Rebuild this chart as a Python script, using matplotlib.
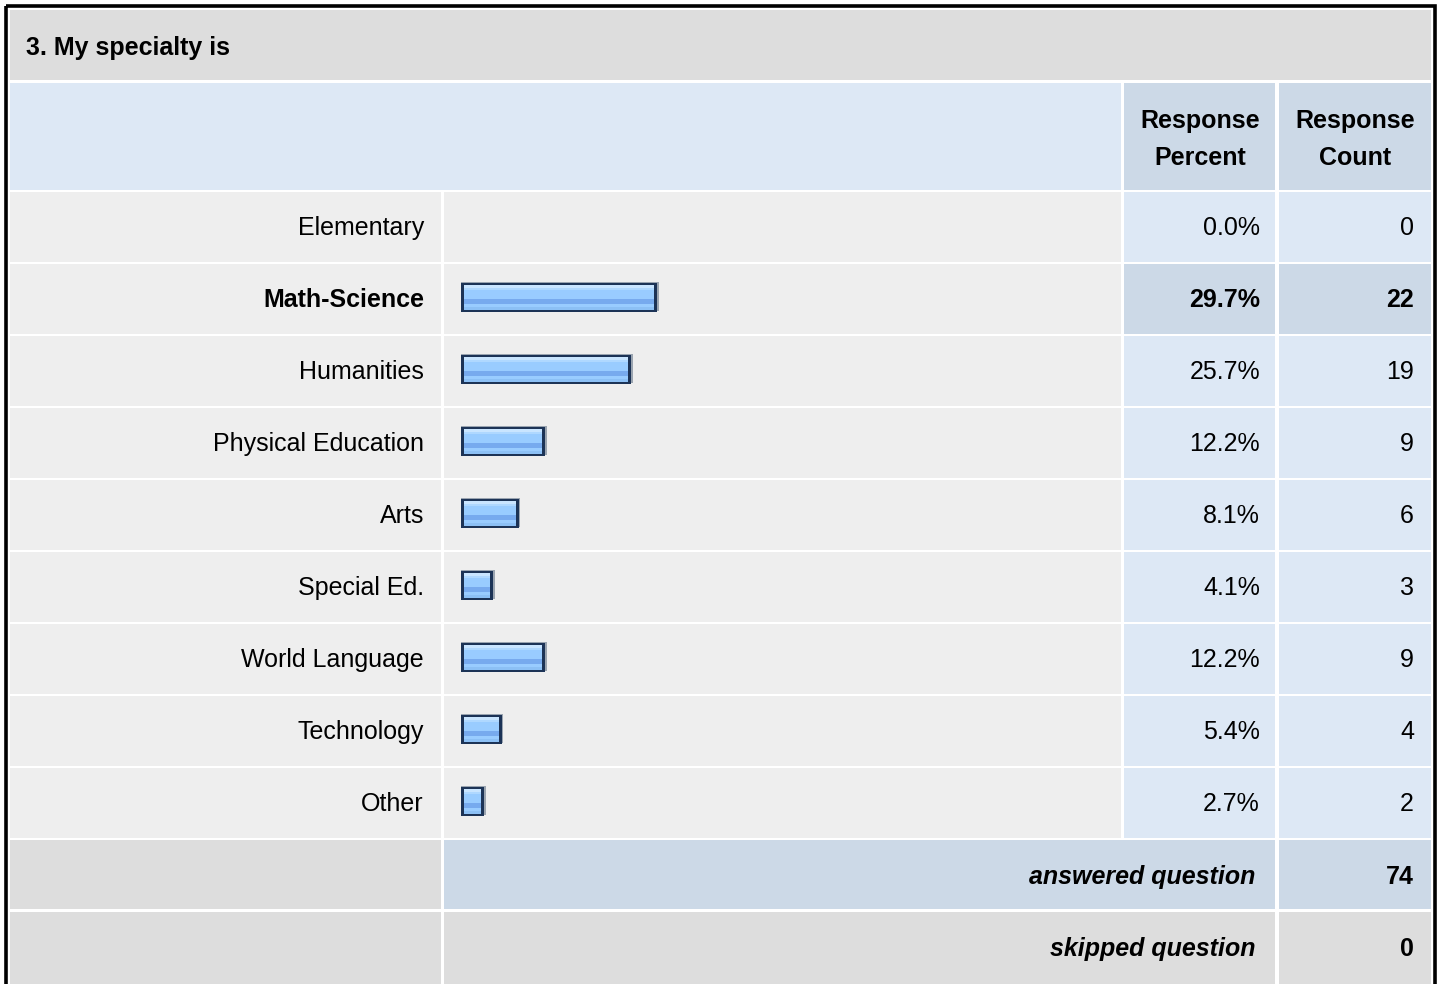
import matplotlib.pyplot as plt
from matplotlib.patches import Rectangle
import numpy as np

# survey data
title = "3. My specialty is"
categories = ["Elementary", "Math-Science", "Humanities", "Physical Education",
              "Arts", "Special Ed.", "World Language", "Technology", "Other"]
percents = [0.0, 29.7, 25.7, 12.2, 8.1, 4.1, 12.2, 5.4, 2.7]
counts = [0, 22, 19, 9, 6, 3, 9, 4, 2]
highlight = "Math-Science"
answered = 74
skipped = 0

plt.rcParams['font.family'] = ['Liberation Sans', 'DejaVu Sans']
FS = 18

# colours
GRAY = "#dddddd"
ROWGRAY = "#eeeeee"
LBLUE = "#dde8f5"
DBLUE = "#ccd9e7"
NAVY = "#1c3356"

fig = plt.figure(figsize=(14.4, 9.84), dpi=100)
ax = fig.add_axes([0, 0, 1, 1])
ax.set_xlim(0, 1440)
ax.set_ylim(984, 0)
ax.axis('off')

def cell(x0, x1, y0, y1, color):
    ax.add_patch(Rectangle((x0, y0), x1 - x0, y1 - y0, facecolor=color, edgecolor='none'))

# column bounds
C_LAB = (10, 441)
C_BAR = (444, 1121)
C_PCT = (1124, 1275)
C_CNT = (1279, 1431)

# outer frame
ax.add_patch(Rectangle((6, 6), 1428.5, 1000, facecolor='none', edgecolor='black', linewidth=2.6))

# title row
cell(10, 1431, 10, 80, GRAY)
ax.text(26, 48, title, fontsize=FS, fontweight='bold', ha='left', va='center')

# header row
cell(10, 1121, 83, 190, LBLUE)
cell(*C_PCT, 83, 190, DBLUE)
cell(*C_CNT, 83, 190, DBLUE)
for xc, (l1, l2) in [(1200, ("Response", "Percent")), (1355, ("Response", "Count"))]:
    ax.text(xc, 121, l1, fontsize=FS, fontweight='bold', ha='center', va='center')
    ax.text(xc, 158, l2, fontsize=FS, fontweight='bold', ha='center', va='center')

# data rows
n = len(categories)
row_top = 192 + 72 * np.arange(n)
centers = row_top + 35
for i, cat in enumerate(categories):
    y0, y1 = row_top[i], row_top[i] + 70
    hl = cat == highlight
    cell(*C_LAB, y0, y1, ROWGRAY)
    cell(*C_BAR, y0, y1, ROWGRAY)
    cell(*C_PCT, y0, y1, DBLUE if hl else LBLUE)
    cell(*C_CNT, y0, y1, DBLUE if hl else LBLUE)
    w = 'bold' if hl else 'normal'
    ax.text(424, centers[i] + 1, cat, fontsize=FS, fontweight=w, ha='right', va='center')
    ax.text(1260, centers[i] + 1, f"{percents[i]:.1f}%", fontsize=FS, fontweight=w, ha='right', va='center')
    ax.text(1414, centers[i] + 1, str(counts[i]), fontsize=FS, fontweight=w, ha='right', va='center')

# bars: image width = percent * scale + border padding
scale = 6.4
pad = 6
pct = np.array(percents)
mask = pct > 0
yb = centers[mask] - 1.5
wb = pct[mask] * scale + pad
left = 461
# shadow, border, then striped fill
ax.barh(yb - 1, wb + 1.5, height=29, left=left, color="#9aa4b0", linewidth=0)
ax.barh(yb, wb, height=29, left=left, color=NAVY, linewidth=0)
stripes = [(-11.2, 2.7, "#c9e5ff"), (-8.55, 2.8, "#afd8ff"), (-2.85, 8.8, "#99ccff"),
           (4.15, 5.4, "#77aaee"), (8.15, 2.8, "#99ccff"), (10.8, 2.6, "#8cc0f5")]
for off, h, col in stripes:
    ax.barh(yb + off, wb - 6, height=h, left=left + 3, color=col, linewidth=0)

# summary rows
cell(*C_LAB, 840, 909, GRAY)
cell(444, 1275, 840, 909, DBLUE)
cell(*C_CNT, 840, 909, DBLUE)
ax.text(1255, 877, "answered question", fontsize=FS, fontweight='bold', style='italic', ha='right', va='center')
ax.text(1414, 877, str(answered), fontsize=FS, fontweight='bold', ha='right', va='center')

cell(*C_LAB, 912, 990, GRAY)
cell(444, 1275, 912, 990, GRAY)
cell(*C_CNT, 912, 990, GRAY)
ax.text(1255, 949, "skipped question", fontsize=FS, fontweight='bold', style='italic', ha='right', va='center')
ax.text(1414, 949, str(skipped), fontsize=FS, fontweight='bold', ha='right', va='center')

fig.savefig("out.png", dpi=100, facecolor='white')
